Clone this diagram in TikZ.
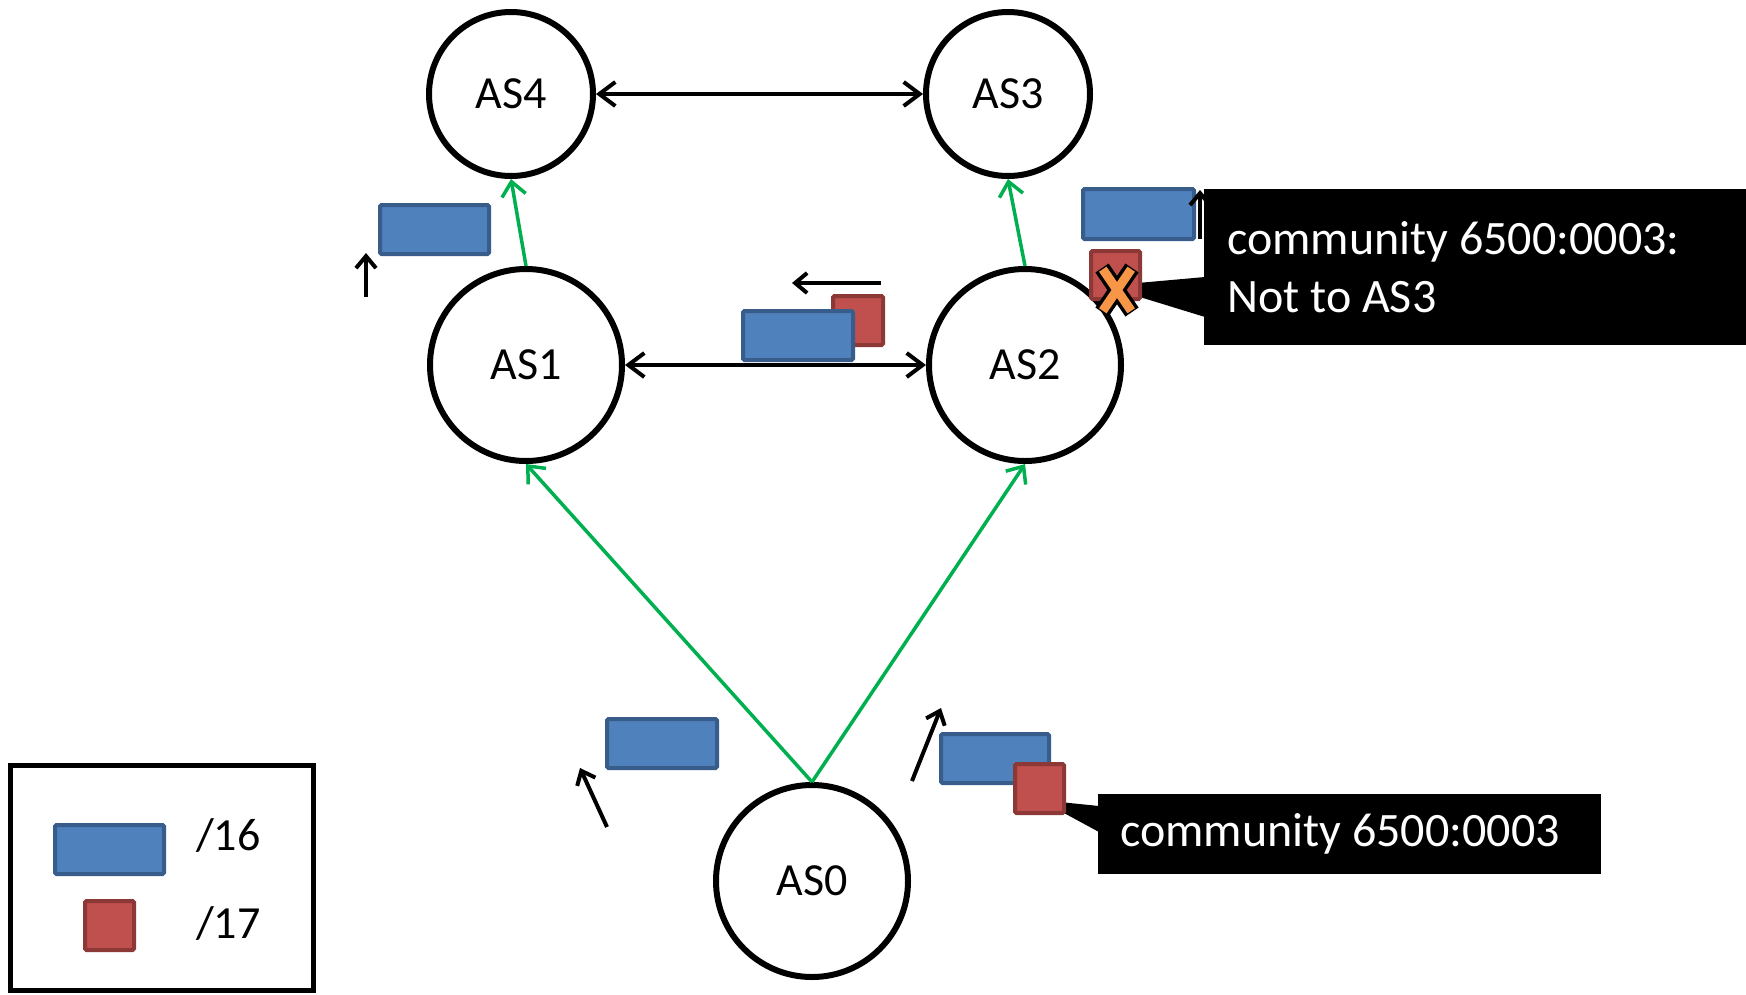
\documentclass[tikz,border=0pt]{standalone}
\usepackage{fontspec}
\setmainfont{Carlito}
\usetikzlibrary{arrows.meta}
\definecolor{bluefill}{HTML}{4F81BD}
\definecolor{blueline}{HTML}{385D8A}
\definecolor{redfill}{HTML}{C0504D}
\definecolor{redline}{HTML}{8C3836}
\definecolor{greenline}{HTML}{00B050}
\definecolor{xorange}{HTML}{F79646}
\begin{document}
\begin{tikzpicture}[x=1pt,y=-1pt,
  asnode/.style={circle, draw=black, line width=6pt, fill=white, inner sep=0pt, font=\fontsize{46}{56}\selectfont},
  bignode/.style={asnode, minimum size=192pt},
  smallnode/.style={asnode, minimum size=164pt},
  peer/.style={draw=black, line width=4pt, {Straight Barb[length=16pt,width=24pt]}-{Straight Barb[length=16pt,width=24pt]}},
  adv/.style={draw=greenline, line width=3.5pt, -{Straight Barb[length=14pt,width=24pt]}},
  move/.style={draw=black, line width=4pt, -{Straight Barb[length=12pt,width=20pt]}},
  pfxa/.style={draw=blueline, fill=bluefill, line width=4pt, rounded corners=1.5pt},
  pfxb/.style={draw=redline, fill=redfill, line width=4pt, rounded corners=1.5pt},
  callout/.style={fill=black, text=white, inner sep=0pt, align=left, font=\fontsize{48}{58}\selectfont},
  legtext/.style={anchor=base west, inner sep=0pt, font=\fontsize{46}{56}\selectfont},
]
\useasboundingbox[fill=white] (0,0) rectangle (1746,994);

% AS nodes
\node[smallnode] (as4) at (511,94) {AS4};
\node[smallnode] (as3) at (1008,94) {AS3};
\node[bignode] (as1) at (526,365) {AS1};
\node[bignode] (as2) at (1025,365) {AS2};
\node[bignode] (as0) at (812,881) {AS0};

% peerings
\draw[peer] (as4) -- (as3);
\draw[peer] (as1) -- (as2);

% announcements
\draw[adv] (as1.north) -- (as4.south);
\draw[adv] (as2.north) -- (as3.south);
\draw[adv] (as0.north) -- (as1.south);
\draw[adv] (as0.north) -- (as2.south);

% prefixes travelling
\draw[pfxa] (380,205) rectangle (489,254);
\draw[pfxb] (833,296) rectangle (883,345);
\draw[pfxa] (743,311) rectangle (853,360);
\draw[pfxa] (1083,189) rectangle (1194,239);
\draw[pfxa] (607,719) rectangle (717,768);
\draw[pfxa] (941,734) rectangle (1049,783);

% motion arrows
\coordinate (m1a) at (366,297); \coordinate (m1b) at (366,253);
\coordinate (m2a) at (881,283); \coordinate (m2b) at (792,283);
\coordinate (m3a) at (1200,239); \coordinate (m3b) at (1200,190);
\coordinate (m4a) at (607,827); \coordinate (m4b) at (580,768);
\coordinate (m5a) at (912,781); \coordinate (m5b) at (941,708);
\draw[move] (m1a) -- (m1b);
\draw[move] (m2a) -- (m2b);
\draw[move] (m3a) -- (m3b);
\draw[move] (m4a) -- (m4b);
\draw[move] (m5a) -- (m5b);

% callout 1
\node[callout, anchor=north west, minimum height=156pt, text width=496pt, inner xsep=23pt] (c1) at (1204,189) {\spaceskip=0pt\xspaceskip=0pt\relax community 6500:0003:\\Not to AS3};
\coordinate (tip1) at (1104,286);
\fill[black] (1205,277) -- (tip1) -- (1205,317) -- cycle;
\draw[pfxb] (1091,251) rectangle (1140,299);
\draw[black, line width=16pt] (1102,268) -- (1132,312) (1132,268) -- (1102,312);
\draw[xorange, line width=9pt] (1102.8,269.2) -- (1131.2,310.8) (1131.2,269.2) -- (1102.8,310.8);

% callout 2
\node[callout, anchor=north west, minimum height=80pt, text width=459pt, inner xsep=22pt] (c2) at (1098,794) {\spaceskip=0pt\xspaceskip=0pt\relax community 6500:0003};
\coordinate (tip2) at (1040,800);
\fill[black] (1099,806) -- (tip2) -- (1099,832) -- cycle;
\draw[pfxb] (1015,764) rectangle (1064,813);

% legend
\draw[line width=5pt] (10,765) rectangle (313,990);
\draw[pfxa] (55,825) rectangle (164,874);
\draw[pfxb] (85,901) rectangle (134,950);
\node[legtext] (l16) at (196,850) {/16};
\node[legtext] (l17) at (196,938) {/17};
\end{tikzpicture}
\end{document}
